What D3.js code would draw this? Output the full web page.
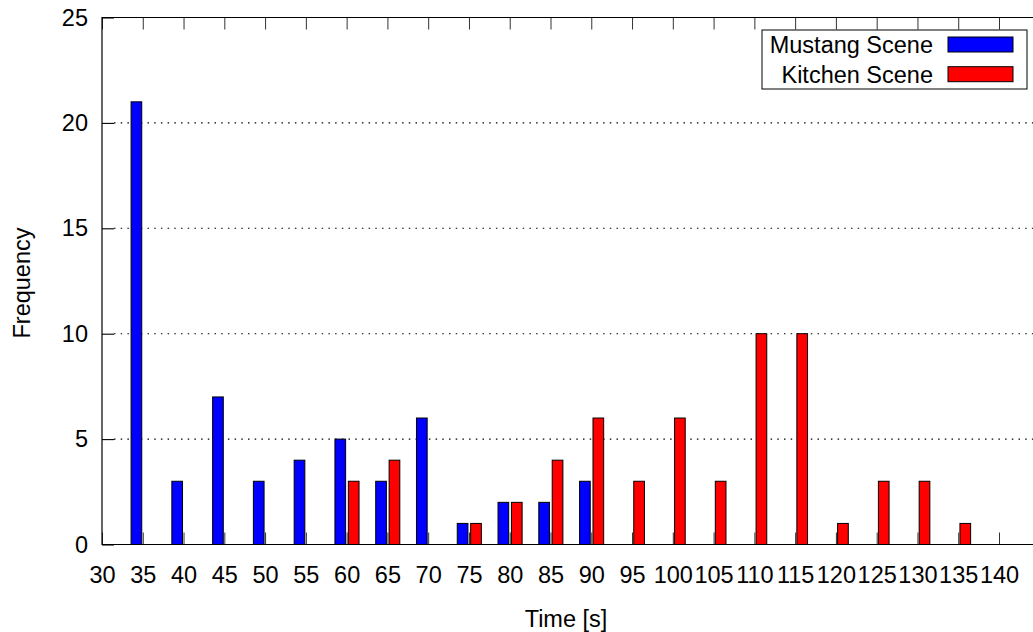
<!DOCTYPE html>
<html>
<head>
<meta charset="utf-8">
<script src="https://cdn.jsdelivr.net/npm/d3@7"></script>
<style>
  html, body { margin: 0; padding: 0; background: #fff; }
  svg { display: block; }
  text { font-family: "Liberation Sans", Arial, Helvetica, sans-serif; }
</style>
</head>
<body>
<svg id="chart" width="1033" height="632"></svg>
<script>
// Histogram of completion times (seconds) for two scenes
const timeBins = [30, 35, 40, 45, 50, 55, 60, 65, 70, 75, 80, 85, 90, 95, 100, 105, 110, 115, 120, 125, 130, 135, 140];
const mustangCounts = [0, 21, 3, 7, 3, 4, 5, 3, 6, 1, 2, 2, 3, 0, 0, 0, 0, 0, 0, 0, 0, 0, 0];
const kitchenCounts = [0, 0, 0, 0, 0, 0, 3, 4, 0, 1, 2, 4, 6, 3, 6, 3, 10, 10, 1, 3, 3, 1, 0];
const yTicks = [0, 5, 10, 15, 20, 25];
const seriesNames = ["Mustang Scene", "Kitchen Scene"];
const seriesColors = ["#0000ff", "#ff0000"];

const W = 1033, H = 632;
const plotLeft = 102, plotTop = 17.5, plotBottom = 544.5;
const fontSize = 23.5;

const svg = d3.select("#chart");

const x = d3.scaleLinear().domain([30, 140]).range([plotLeft, 999]);
const y = d3.scaleLinear().domain([0, 25]).range([plotBottom, plotTop]);
const step = x(35) - x(30);

// horizontal dotted grid
svg.append("g")
  .selectAll("line")
  .data(yTicks.filter(v => v > 0 && v < 25))
  .join("line")
  .attr("x1", plotLeft + 12).attr("x2", W)
  .attr("y1", d => y(d)).attr("y2", d => y(d))
  .attr("stroke", "#000").attr("stroke-width", 1.1)
  .attr("stroke-dasharray", "1.5,5.2");

// bars: one cluster per time bin
const bars = [];
timeBins.forEach((t, i) => {
  if (mustangCounts[i] > 0) bars.push({ t, v: mustangCounts[i], s: 0 });
  if (kitchenCounts[i] > 0) bars.push({ t, v: kitchenCounts[i], s: 1 });
});
const barW = 0.262 * step;
const offsets = [-0.156 * step, 0.173 * step];

svg.append("g")
  .selectAll("rect")
  .data(bars)
  .join("rect")
  .attr("x", d => x(d.t) + offsets[d.s] - barW / 2)
  .attr("y", d => y(d.v))
  .attr("width", barW)
  .attr("height", d => y(0) - y(d.v))
  .attr("fill", d => seriesColors[d.s])
  .attr("stroke", "#000")
  .attr("stroke-width", 1);

// bottom axis (ticks point inward)
const xAxis = svg.append("g")
  .attr("transform", `translate(0,${plotBottom})`)
  .call(d3.axisBottom(x).tickValues(timeBins).tickFormat(d3.format("d"))
    .tickSize(-12).tickPadding(22));
xAxis.select(".domain").remove();
xAxis.selectAll(".tick line").attr("stroke", "#333").attr("stroke-width", 1);
xAxis.selectAll("text").attr("font-size", fontSize).attr("fill", "#000")
  .attr("font-family", "Liberation Sans, Arial, sans-serif");

// top mirrored ticks
const xTop = svg.append("g")
  .attr("transform", `translate(0,${plotTop})`)
  .call(d3.axisTop(x).tickValues(timeBins).tickFormat("").tickSize(-12));
xTop.select(".domain").remove();
xTop.selectAll(".tick line").attr("stroke", "#333").attr("stroke-width", 1);

// left axis
const yAxis = svg.append("g")
  .attr("transform", `translate(${plotLeft},0)`)
  .call(d3.axisLeft(y).tickValues(yTicks).tickFormat(d3.format("d"))
    .tickSize(-12).tickPadding(14));
yAxis.select(".domain").remove();
yAxis.selectAll(".tick line").attr("stroke", "#000").attr("stroke-width", 1.1);
yAxis.selectAll("text").attr("font-size", fontSize).attr("fill", "#000")
  .attr("font-family", "Liberation Sans, Arial, sans-serif");

// plot border (right side runs past the canvas)
svg.append("path")
  .attr("d", `M${W + 5},${plotTop} H${plotLeft} V${plotBottom} H${W + 5}`)
  .attr("fill", "none").attr("stroke", "#000").attr("stroke-width", 1.2);

// axis titles
svg.append("text")
  .attr("x", 566).attr("y", 627)
  .attr("text-anchor", "middle")
  .attr("font-size", fontSize)
  .text("Time [s]");

svg.append("text")
  .attr("transform", "translate(30,283) rotate(-90)")
  .attr("text-anchor", "middle")
  .attr("font-size", fontSize)
  .text("Frequency");

// legend
const legend = svg.append("g");
legend.append("rect")
  .attr("x", 762).attr("y", 30).attr("width", 265).attr("height", 59)
  .attr("fill", "#fff").attr("stroke", "#000").attr("stroke-width", 1);
seriesNames.forEach((name, i) => {
  const cy = [44.5, 74.2][i];
  legend.append("text")
    .attr("x", 933).attr("y", cy + 8.5)
    .attr("text-anchor", "end")
    .attr("font-size", fontSize)
    .text(name);
  legend.append("rect")
    .attr("x", 948).attr("y", cy - 7.5).attr("width", 65).attr("height", 15)
    .attr("fill", seriesColors[i]).attr("stroke", "#000").attr("stroke-width", 1);
});
</script>
</body>
</html>
